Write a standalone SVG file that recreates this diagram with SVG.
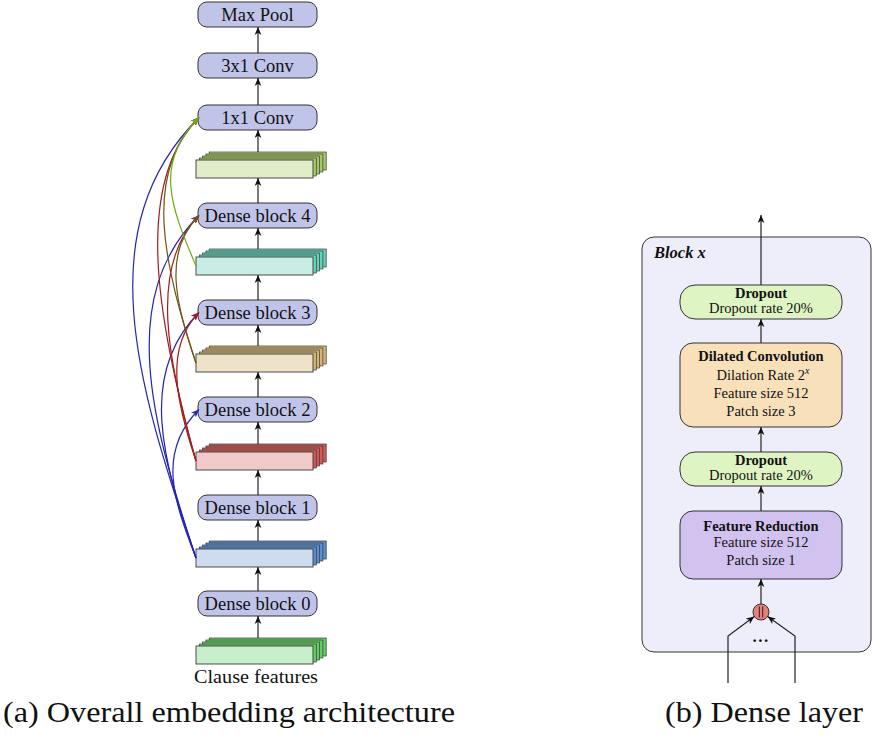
<svg xmlns="http://www.w3.org/2000/svg" width="873" height="738" viewBox="0 0 873 738">
  <style>
    text { font-family: "Liberation Serif", serif; fill: #111; }
    .node rect { fill: #c1c4e9; stroke: #333; stroke-width: 1; }
    .node text { font-size: 18.5px; text-anchor: middle; }
    .st rect { stroke: #3a3a3a; stroke-width: 0.7; }
    .st .fr { stroke-width: 0.9; }
    .green .bk { fill: #a6c865; } .green .fr { fill: #e1ecc9; }
    .teal .bk { fill: #66d2bb; } .teal .fr { fill: #c9ece5; }
    .sand .bk { fill: #d4b577; } .sand .fr { fill: #eee3c9; }
    .red .bk { fill: #d05a57; } .red .fr { fill: #f2c9c9; }
    .blue .bk { fill: #5b8fcf; } .blue .fr { fill: #cddcee; }
    .lime .bk { fill: #66cc66; } .lime .fr { fill: #c9eecb; }
    .up { stroke: #222; stroke-width: 1.2; fill: none; marker-end: url(#ah-k); }
    .skip { fill: none; stroke-width: 1.2; }
    .c-blue { stroke: #2323b8; marker-end: url(#ah-b); }
    .c-red { stroke: #a31a1a; marker-end: url(#ah-r); }
    .c-brown { stroke: #6e5418; marker-end: url(#ah-n); }
    .c-green { stroke: #6cae12; marker-end: url(#ah-g); }
    .layer rect { stroke: #333; stroke-width: 1; }
    .layer text { font-size: 14.5px; text-anchor: middle; }
    .layer .hd { font-weight: bold; }
    .cap { font-size: 30px; }
  </style>
  <defs>
    <marker id="ah-k" markerUnits="userSpaceOnUse" markerWidth="10" markerHeight="8" refX="8" refY="4" orient="auto">
      <path d="M0,0.6 L8,4 L0,7.4 L2.2,4 Z" fill="#111"/>
    </marker>
    <marker id="ah-b" markerUnits="userSpaceOnUse" markerWidth="10" markerHeight="8" refX="8" refY="4" orient="auto">
      <path d="M0,0.6 L8,4 L0,7.4 L2.2,4 Z" fill="#2323b8"/>
    </marker>
    <marker id="ah-r" markerUnits="userSpaceOnUse" markerWidth="10" markerHeight="8" refX="8" refY="4" orient="auto">
      <path d="M0,0.6 L8,4 L0,7.4 L2.2,4 Z" fill="#a31a1a"/>
    </marker>
    <marker id="ah-n" markerUnits="userSpaceOnUse" markerWidth="10" markerHeight="8" refX="8" refY="4" orient="auto">
      <path d="M0,0.6 L8,4 L0,7.4 L2.2,4 Z" fill="#6e5418"/>
    </marker>
    <marker id="ah-g" markerUnits="userSpaceOnUse" markerWidth="10" markerHeight="8" refX="8" refY="4" orient="auto">
      <path d="M0,0.6 L8,4 L0,7.4 L2.2,4 Z" fill="#6cae12"/>
    </marker>
  </defs>

  <!-- (a) embedding architecture: operation nodes -->
  <g id="max-pool" class="node"><rect x="198" y="2" width="119" height="25" rx="9"/><text x="257.5" y="21">Max Pool</text></g>
  <g id="conv-3x1" class="node"><rect x="198" y="53" width="119" height="25" rx="9"/><text x="257.5" y="72">3x1 Conv</text></g>
  <g id="conv-1x1" class="node"><rect x="198" y="105" width="119" height="25" rx="9"/><text x="257.5" y="124">1x1 Conv</text></g>
  <g id="dense-4" class="node"><rect x="198" y="203" width="119" height="25" rx="9"/><text x="257.5" y="222">Dense block 4</text></g>
  <g id="dense-3" class="node"><rect x="198" y="300" width="119" height="25" rx="9"/><text x="257.5" y="319">Dense block 3</text></g>
  <g id="dense-2" class="node"><rect x="198" y="397" width="119" height="25" rx="9"/><text x="257.5" y="416">Dense block 2</text></g>
  <g id="dense-1" class="node"><rect x="198" y="495" width="119" height="25" rx="9"/><text x="257.5" y="514">Dense block 1</text></g>
  <g id="dense-0" class="node"><rect x="198" y="591" width="119" height="25" rx="9"/><text x="257.5" y="610">Dense block 0</text></g>

  <!-- feature map stacks (front sheet at y=0 in local coordinates) -->
  <g id="maps-5" class="st green" transform="translate(0,160)">
    <rect class="bk" x="209.2" y="-8" width="117" height="18"/><rect class="bk" x="205.9" y="-6" width="117" height="18"/>
    <rect class="bk" x="202.6" y="-4" width="117" height="18"/><rect class="bk" x="199.3" y="-2" width="117" height="18"/>
    <rect class="fr" x="196" y="0" width="117" height="18"/>
  </g>
  <g id="maps-4" class="st teal" transform="translate(0,257)">
    <rect class="bk" x="209.2" y="-8" width="117" height="18"/><rect class="bk" x="205.9" y="-6" width="117" height="18"/>
    <rect class="bk" x="202.6" y="-4" width="117" height="18"/><rect class="bk" x="199.3" y="-2" width="117" height="18"/>
    <rect class="fr" x="196" y="0" width="117" height="18"/>
  </g>
  <g id="maps-3" class="st sand" transform="translate(0,354)">
    <rect class="bk" x="209.2" y="-8" width="117" height="18"/><rect class="bk" x="205.9" y="-6" width="117" height="18"/>
    <rect class="bk" x="202.6" y="-4" width="117" height="18"/><rect class="bk" x="199.3" y="-2" width="117" height="18"/>
    <rect class="fr" x="196" y="0" width="117" height="18"/>
  </g>
  <g id="maps-2" class="st red" transform="translate(0,452)">
    <rect class="bk" x="209.2" y="-8" width="117" height="18"/><rect class="bk" x="205.9" y="-6" width="117" height="18"/>
    <rect class="bk" x="202.6" y="-4" width="117" height="18"/><rect class="bk" x="199.3" y="-2" width="117" height="18"/>
    <rect class="fr" x="196" y="0" width="117" height="18"/>
  </g>
  <g id="maps-1" class="st blue" transform="translate(0,549)">
    <rect class="bk" x="209.2" y="-8" width="117" height="18"/><rect class="bk" x="205.9" y="-6" width="117" height="18"/>
    <rect class="bk" x="202.6" y="-4" width="117" height="18"/><rect class="bk" x="199.3" y="-2" width="117" height="18"/>
    <rect class="fr" x="196" y="0" width="117" height="18"/>
  </g>
  <g id="clause-features" class="st lime" transform="translate(0,646)">
    <rect class="bk" x="209.2" y="-8" width="117" height="18"/><rect class="bk" x="205.9" y="-6" width="117" height="18"/>
    <rect class="bk" x="202.6" y="-4" width="117" height="18"/><rect class="bk" x="199.3" y="-2" width="117" height="18"/>
    <rect class="fr" x="196" y="0" width="117" height="18"/>
    <text x="194" y="37" font-size="18.5" textLength="124" lengthAdjust="spacingAndGlyphs">Clause features</text>
  </g>

  <!-- (a) connectors: main path and dense skip connections -->
  <g id="connectors-a">
    <path class="up" d="M258,53 V27"/>
    <path class="up" d="M258,105 V78"/>
    <path class="up" d="M258,152 V130"/>
    <path class="up" d="M258,203 V178"/>
    <path class="up" d="M258,249 V228"/>
    <path class="up" d="M258,300 V275"/>
    <path class="up" d="M258,346 V325"/>
    <path class="up" d="M258,397 V372"/>
    <path class="up" d="M258,444 V422"/>
    <path class="up" d="M258,495 V470"/>
    <path class="up" d="M258,541 V520"/>
    <path class="up" d="M258,591 V567"/>
    <path class="up" d="M258,638 V616"/>

    <path class="skip c-blue" d="M196,558 C136,382 89,227.5 199,117.5"/>
    <path class="skip c-blue" d="M196,558 C151,421 117,297.5 199,215.5"/>
    <path class="skip c-blue" d="M196,558 C162,460 138,373.5 199,312.5"/>
    <path class="skip c-blue" d="M196,558 C173,499 157,451.5 199,409.5"/>

    <path class="skip c-red" d="M196,461 C158,324 132,184.5 199,117.5"/>
    <path class="skip c-red" d="M196,461 C168,363 148,266.5 199,215.5"/>
    <path class="skip c-red" d="M196,461 C176,402 164,347.5 199,312.5"/>

    <path class="skip c-brown" d="M196,363 C164,265 142,174.5 199,117.5"/>
    <path class="skip c-brown" d="M196,363 C176,304 162,252.5 199,215.5"/>

    <path class="skip c-green" d="M196,266 C171,207 153,163.5 199,117.5"/>
  </g>

  <!-- (b) dense layer -->
  <g id="block-x">
    <rect x="642" y="237" width="229" height="415" rx="12" fill="#eeeefb" stroke="#333" stroke-width="1"/>
    <text x="654" y="258" font-size="16.5" font-weight="bold" font-style="italic">Block x</text>
  </g>
  <g id="dropout-top" class="layer">
    <rect x="680" y="285" width="162" height="34" rx="15" fill="#dff4c3"/>
    <text class="hd" x="761" y="298">Dropout</text>
    <text x="761" y="313">Dropout rate 20%</text>
  </g>
  <g id="dilated-conv" class="layer">
    <rect x="680" y="343" width="162" height="84" rx="13" fill="#f8e0bb"/>
    <text class="hd" x="761" y="361">Dilated Convolution</text>
    <text x="763" y="380">Dilation Rate 2<tspan font-size="10" font-style="italic" dy="-6">x</tspan></text>
    <text x="761" y="398">Feature size 512</text>
    <text x="761" y="416">Patch size 3</text>
  </g>
  <g id="dropout-bottom" class="layer">
    <rect x="680" y="452" width="162" height="34" rx="15" fill="#dff4c3"/>
    <text class="hd" x="761" y="465">Dropout</text>
    <text x="761" y="480">Dropout rate 20%</text>
  </g>
  <g id="feature-reduction" class="layer">
    <rect x="680" y="511" width="162" height="68" rx="13" fill="#d2c2ef"/>
    <text class="hd" x="761" y="531">Feature Reduction</text>
    <text x="761" y="547">Feature size 512</text>
    <text x="761" y="565">Patch size 1</text>
  </g>
  <g id="concat">
    <circle cx="761" cy="612" r="8" fill="#e8817a" stroke="#333" stroke-width="1"/>
    <path d="M759.3,606.5 V617.5 M762.7,606.5 V617.5" stroke="#222" stroke-width="1"/>
  </g>
  <text x="761" y="642" font-size="17" font-weight="bold" text-anchor="middle" letter-spacing="1.5">...</text>

  <!-- (b) connectors -->
  <g id="connectors-b">
    <path class="up" d="M761,285 V215"/>
    <path class="up" d="M761,343 V319"/>
    <path class="up" d="M761,452 V427"/>
    <path class="up" d="M761,511 V486"/>
    <path class="up" d="M761,604 V579"/>
    <path class="up" d="M728,683 V636 L754.3,616.6"/>
    <path class="up" d="M795,683 V636 L767.7,616.6"/>
  </g>

  <!-- captions -->
  <text class="cap" x="3" y="722" textLength="452" lengthAdjust="spacingAndGlyphs">(a) Overall embedding architecture</text>
  <text class="cap" x="665" y="722" textLength="198" lengthAdjust="spacingAndGlyphs">(b) Dense layer</text>
</svg>
